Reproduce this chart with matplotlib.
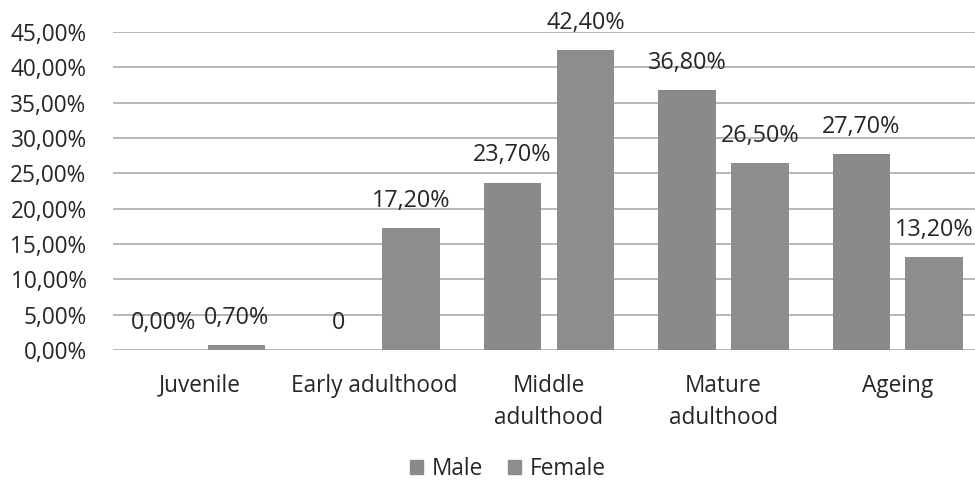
import matplotlib
matplotlib.use("Agg")
import matplotlib.pyplot as plt
from matplotlib.patches import Patch
import numpy as np

plt.rcParams['font.family'] = ['Open Sans', 'DejaVu Sans']

categories = ["Juvenile", "Early adulthood", "Middle\nadulthood", "Mature\nadulthood", "Ageing"]
male = [0.0, None, 23.7, 36.8, 27.7]      # None: no value recorded
female = [0.7, 17.2, 42.4, 26.5, 13.2]
series_names = ["Male", "Female"]
y_ticks = [0, 5, 10, 15, 20, 25, 30, 35, 40, 45]

BAR_COLOR_M = "#8a8a8a"
BAR_COLOR_F = "#8d8d8d"
TEXT_COLOR = "#262626"
GRID_COLOR = "#a3a3a3"
FS = 16.3
FS_LABEL = 16.8


def pct(v):
    return f"{v:.2f}%".replace(".", ",")


fig = plt.figure(figsize=(9.75, 4.82), dpi=100)
ax = fig.add_axes([113 / 975, 1 - 350 / 482, 872 / 975, 318 / 482])

x = np.arange(len(categories))
w = 0.33
off = 0.209

male_h = [0.0 if v is None else v for v in male]
ax.bar(x - off, male_h, w, color=BAR_COLOR_M, zorder=3)
ax.bar(x + off, female, w, color=BAR_COLOR_F, zorder=3)

for xi, v, h in zip(x - off, male, male_h):
    ax.annotate("0" if v is None else pct(v), (xi, h), xytext=(0, 19.5),
                textcoords="offset points", ha="center", va="center",
                fontsize=FS_LABEL, color=TEXT_COLOR, zorder=4)
for xi, v in zip(x + off, female):
    ax.annotate(pct(v), (xi, v), xytext=(0, 19.5),
                textcoords="offset points", ha="center", va="center",
                fontsize=FS_LABEL, color=TEXT_COLOR, zorder=4)

ax.set_xlim(-0.5, len(categories) - 0.5)
ax.set_ylim(0, 45)
ax.set_yticks(y_ticks)
ax.set_yticklabels([pct(v) for v in y_ticks], fontsize=FS, color=TEXT_COLOR)
ax.set_xticks(x)
ax.set_xticklabels(categories, fontsize=FS, color=TEXT_COLOR, linespacing=1.45)
ax.tick_params(axis="y", length=0, pad=19)
ax.tick_params(axis="x", length=0, pad=17)
ax.yaxis.grid(True, color=GRID_COLOR, linewidth=1.1, zorder=0)
ax.set_axisbelow(True)
for s in ax.spines.values():
    s.set_visible(False)

handles = [Patch(color=BAR_COLOR_M), Patch(color=BAR_COLOR_F)]
fig.legend(handles, series_names, loc="center", bbox_to_anchor=(508 / 975, 1 - 469 / 482),
           ncol=2, frameon=False, fontsize=FS, handlelength=0.55, handleheight=0.55,
           handletextpad=0.4, columnspacing=1.1, labelcolor=TEXT_COLOR)

fig.savefig("out.png", dpi=100, facecolor="white")
